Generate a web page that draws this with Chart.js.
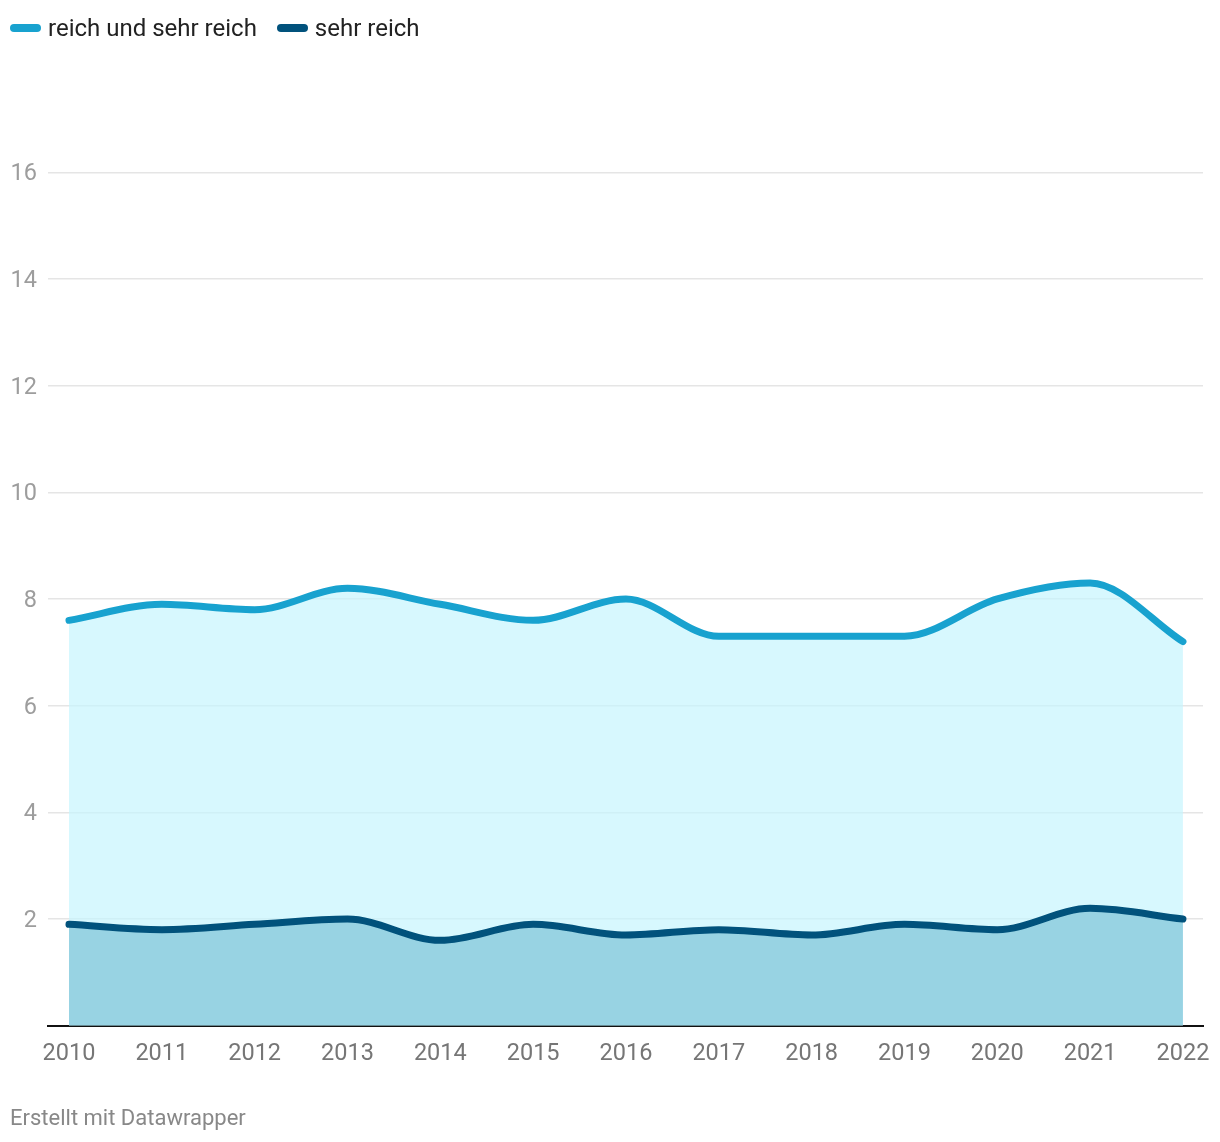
<!DOCTYPE html>
<html>
<head>
<meta charset="utf-8">
<script src="https://cdn.jsdelivr.net/npm/chart.js@4"></script>
<style>
  html, body { margin:0; padding:0; background:#fff; }
  body { width:1220px; height:1142px; position:relative; overflow:hidden; font-family: Roboto, "Noto Sans", sans-serif; }
  #wrap { position:absolute; left:0; top:0; width:1220px; height:1142px; }
  #legend { position:absolute; left:10px; top:14px; display:flex; align-items:center; font-size:24px; color:#222; }
  .item { display:flex; align-items:center; margin-right:20px; }
  .sw { width:31px; height:8px; border-radius:4px; margin-right:7px; }
  #footer { position:absolute; left:10px; top:1105px; font-size:22px; color:#888; }
</style>
</head>
<body>
<div id="wrap"><canvas id="c" width="1220" height="1142"></canvas></div>
<div id="legend"></div>
<div id="footer">Erstellt mit Datawrapper</div>
<script>
const years = [2010, 2011, 2012, 2013, 2014, 2015, 2016, 2017, 2018, 2019, 2020, 2021, 2022];
const reichUndSehrReich = [7.6, 7.9, 7.8, 8.2, 7.9, 7.6, 8.0, 7.3, 7.3, 7.3, 8.0, 8.3, 7.2];
const sehrReich = [1.9, 1.8, 1.9, 2.0, 1.6, 1.9, 1.7, 1.8, 1.7, 1.9, 1.8, 2.2, 2.0];
const yTicks = [2, 4, 6, 8, 10, 12, 14, 16];
const seriesNames = ["reich und sehr reich", "sehr reich"];
const lineColors = ["#18a2cf", "#01527c"];

const legend = document.getElementById('legend');
seriesNames.forEach((n, i) => {
  const it = document.createElement('div'); it.className = 'item';
  const sw = document.createElement('div'); sw.className = 'sw'; sw.style.background = lineColors[i];
  const t = document.createElement('span'); t.textContent = n;
  it.appendChild(sw); it.appendChild(t); legend.appendChild(it);
});

const toXY = vals => years.map((y, i) => ({x: y, y: vals[i]}));

new Chart(document.getElementById('c'), {
  type: 'line',
  data: {
    datasets: [
      {
        label: seriesNames[0], data: toXY(reichUndSehrReich), order: 1,
        borderColor: lineColors[0], borderWidth: 7, fill: 'origin',
        backgroundColor: 'rgba(198,245,253,0.7)',
        pointRadius: 0, cubicInterpolationMode: 'monotone',
        borderCapStyle: 'round', borderJoinStyle: 'round'
      },
      {
        label: seriesNames[1], data: toXY(sehrReich), order: 0,
        borderColor: lineColors[1], borderWidth: 7, fill: 'origin',
        backgroundColor: '#98d3e3',
        pointRadius: 0, cubicInterpolationMode: 'monotone',
        borderCapStyle: 'round', borderJoinStyle: 'round'
      }
    ]
  },
  options: {
    responsive: false, animation: false, devicePixelRatio: 1,
    layout: { padding: { left: 0, right: 17, top: 65.6, bottom: 0 } },
    plugins: { legend: { display: false }, tooltip: { enabled: false } },
    scales: {
      x: {
        type: 'linear', min: 2009.774, max: 2022.216,
        afterBuildTicks: s => { s.ticks = years.map(v => ({value: v})); },
        afterFit: s => { s.height = 1142 - 1025.7; s.paddingRight = 0; s.paddingLeft = 0; },
        grid: { display: false, drawTicks: false },
        border: { display: true, color: '#111', width: 2 },
        ticks: { padding: 14, color: '#767676', font: { family: 'Roboto', size: 23.5 }, callback: v => String(v), maxRotation: 0, autoSkip: false }
      },
      y: {
        min: 0, max: 18,
        afterBuildTicks: s => { s.ticks = yTicks.map(v => ({value: v})); },
        afterFit: s => { s.width = 48; },
        grid: { color: '#e5e5e5', lineWidth: 1.5, drawTicks: false },
        border: { display: false },
        ticks: { padding: 11, labelOffset: 2, color: '#9d9d9d', font: { family: 'Roboto', size: 23.5 }, callback: v => String(v) }
      }
    }
  }
});
</script>
</body>
</html>
